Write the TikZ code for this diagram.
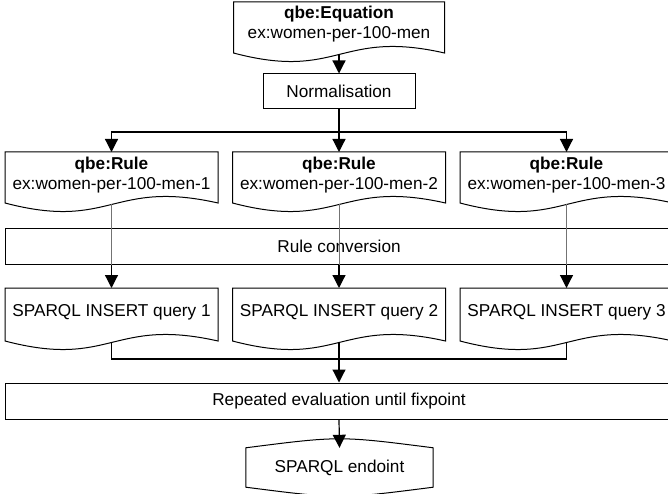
\documentclass[tikz,border=0pt]{standalone}
\usepackage{fontspec}
\setmainfont{Liberation Sans}
\usetikzlibrary{arrows.meta,calc}
% document outline: node name, half width, top offset, bottom offset (from node centre)
\newcommand{\docpath}[4]{%
  \draw[outline] ([shift={(-#2,#3)}]#1.center) -- ([shift={(#2,#3)}]#1.center)
    -- ([shift={(#2,-#4)}]#1.center)
    .. controls ([shift={(0,-#4+24)}]#1.center) and ([shift={(0,-#4-28)}]#1.center)
    .. ([shift={(-#2,-#4)}]#1.center) -- cycle;
  \coordinate (#1-top) at ([yshift=#3]#1.center);
  \coordinate (#1-bot) at ([yshift=-#4-1.5]#1.center);
}
\begin{document}
\begin{tikzpicture}[x=1pt,y=1pt,
  lbl/.style={inner sep=0pt, align=center, font=\fontsize{17.2}{20.5}\selectfont},
  box/.style={draw, line width=1pt, inner sep=0pt, font=\fontsize{17.2}{20.5}\selectfont},
  outline/.style={draw, line width=1pt, line join=miter},
  conn/.style={line width=1.2pt, -{Triangle[width=13pt,length=13pt]}},
  plain/.style={line width=1.2pt},
  faint/.style={line width=0.8pt, draw=black!55},
]
\useasboundingbox (0,0) rectangle (668,493);
\clip (0,0) rectangle (668,493);

% top document
\node[lbl] (eq) at (339,469) {\textbf{qbe:Equation}\\ex:women-per-100-men};
\docpath{eq}{105.5}{22}{29}

\node[box, minimum width=152, minimum height=35] (norm) at (339,401.5) {Normalisation};

% rules
\node[lbl] (r1) at (111.5,318) {\textbf{qbe:Rule}\\ex:women-per-100-men-1};
\docpath{r1}{106.5}{23}{28}
\node[lbl] (r2) at (339,318) {\textbf{qbe:Rule}\\ex:women-per-100-men-2};
\docpath{r2}{106.5}{23}{28}
\node[lbl] (r3) at (566.5,318) {\textbf{qbe:Rule}\\ex:women-per-100-men-3};
\docpath{r3}{106.5}{23}{28}

\node[box, minimum width=668, minimum height=35] (conv) at (339,246.5) {Rule conversion};

% queries
\node[lbl] (q1) at (111.5,181) {SPARQL INSERT query 1};
\docpath{q1}{106.5}{24}{29}
\node[lbl] (q2) at (339,181) {SPARQL INSERT query 2};
\docpath{q2}{106.5}{24}{29}
\node[lbl] (q3) at (566.5,181) {SPARQL INSERT query 3};
\docpath{q3}{106.5}{24}{29}

\node[box, minimum width=668, minimum height=36] (rep) at (339,92) {Repeated evaluation until fixpoint};

% endpoint
\node[lbl, minimum width=187, minimum height=39] (ep) at (339.5,25.5) {SPARQL endoint};
\draw[outline] (ep.north west) .. controls ($(ep.north)+(0,12)$) .. (ep.north east)
  -- (ep.south east) .. controls ($(ep.south)+(0,-12)$) .. (ep.south west) -- cycle;

% connectors
\draw[conn] (eq-bot) -- (norm.north);
\draw[conn] (norm.south) -- (r2-top);
\coordinate (split) at (339,361);
\draw[conn] (split) -| (r1-top);
\draw[conn] (split) -| (r3-top);

\foreach \i in {1,2,3}{
  \draw[faint] (r\i-bot) -- (r\i-bot |- conv.south);
  \draw[conn] (r\i-bot |- conv.south) -- (q\i-top);
}

\coordinate (merge) at (339,134);
\draw[plain] (q1-bot) |- (merge) -| (q3-bot);
\draw[conn] (q2-bot) -- (rep.north);
\draw[conn] (rep.south) -- (ep.north);
\end{tikzpicture}
\end{document}
